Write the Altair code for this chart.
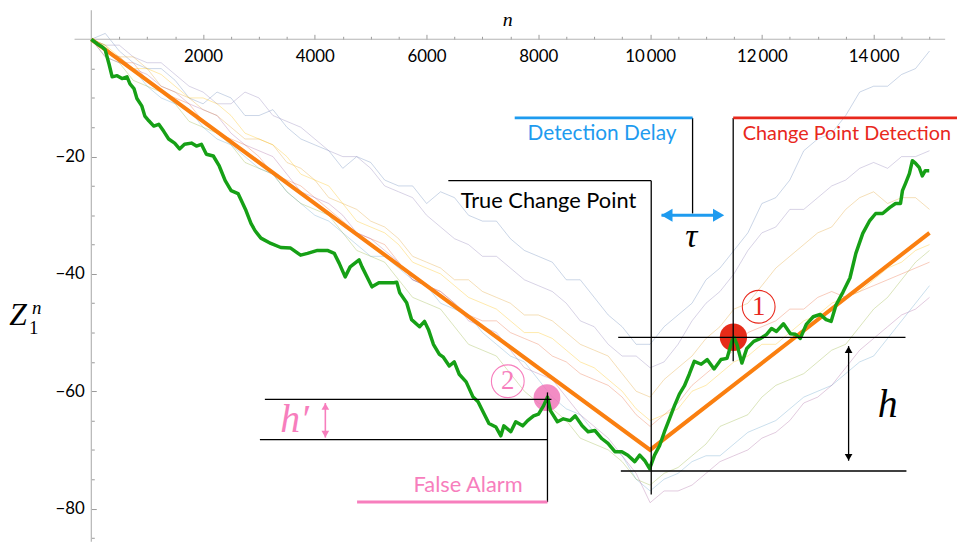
import altair as alt
import pandas as pd

# ---------------- data ----------------
green_n = [0,106,195,248,319,373,461,550,639,692,763,816,905,958,1029,1118,1207,1296,1384,1491,
           1579,1668,1792,1881,1970,2059,2183,2289,2396,2502,2626,2768,2857,2928,3035,3212,3390,3567,3745,3869,
           4047,4224,4348,4437,4543,4632,4792,4845,4933,5022,5146,5288,5412,5466,5519,5643,5732,5874,5963,6034,
           6122,6229,6300,6406,6495,6584,6708,6832,6921,7010,7116,7240,7329,7383,7507,7595,7720,7808,7915,8003,
           8092,8163,8216,8341,8447,8571,8660,8784,8890,9014,9139,9246,9370,9494,9601,9725,9814,9902,9991,10080,
           10169,10257,10346,10435,10524,10613,10701,10790,10914,11021,11145,11269,11376,11464,11500,11553,11642,11731,11855,11979,
           12085,12174,12262,12387,12511,12600,12688,12795,12919,13043,13150,13239,13327,13452,13576,13682,13806,13931,14037,14161,
           14286,14392,14481,14516,14569,14640,14694,14747,14818,14871,14924,14995]
green_z = [0,-0.8,-1.3,-1.8,-4.3,-6.4,-6.2,-6.7,-6.4,-7.6,-8.4,-10.1,-11.4,-13.1,-13.9,-14.8,-14.5,-15.7,-17.0,-17.7,
           -18.7,-17.9,-17.7,-18.2,-17.9,-19.6,-19.9,-21.6,-24.1,-25.8,-26.3,-29.2,-31.4,-32.6,-33.9,-34.8,-35.5,-35.6,-36.8,-36.5,
           -36.0,-36.0,-36.5,-38.2,-40.5,-38.8,-37.6,-38.8,-40.5,-42.2,-41.5,-41.5,-41.5,-41.4,-43.2,-44.9,-47.8,-49.0,-48.1,-49.5,
           -52.0,-53.7,-54.2,-55.7,-55.0,-57.1,-58.4,-61.0,-61.8,-63.5,-65.5,-66.1,-67.6,-65.9,-66.9,-65.2,-65.9,-65.0,-64.2,-63.9,
           -62.5,-61.0,-63.3,-65.2,-64.7,-65.0,-64.2,-65.9,-66.9,-66.7,-68.1,-68.9,-70.3,-70.3,-70.9,-72.0,-70.9,-71.8,-73.2,-70.9,
           -69.3,-66.9,-64.7,-62.5,-60.5,-59.1,-57.1,-54.9,-55.4,-54.6,-56.2,-54.6,-54.4,-51.5,-50.8,-52.0,-55.2,-52.7,-51.5,-51.0,
           -50.3,-49.3,-49.8,-48.5,-50.2,-50.3,-51.0,-48.6,-47.3,-46.9,-47.8,-48.1,-45.3,-43.1,-40.7,-36.5,-33.1,-30.9,-29.7,-29.7,
           -28.7,-28.0,-28.0,-25.8,-24.6,-22.9,-20.7,-21.1,-21.9,-23.3,-22.4,-22.4]

trend_n = [0, 10000, 15000]
trend_z = [0, -70, -33]

faint_n = [0,250,500,750,1000,1250,1500,1750,2000,2250,2500,2750,3000,3250,3500,3750,4000,4250,4500,4750,
           5000,5250,5500,5750,6000,6250,6500,6750,7000,7250,7500,7750,8000,8250,8500,8750,9000,9250,9500,9750,
           10000,10250,10500,10750,11000,11250,11500,11750,12000,12250,12500,12750,13000,13250,13500,13750,14000,14250,14500,14750,15000]
faint_a = [0,1,-2,-4,-5,-5,-7,-10,-11,-9,-10,-13,-13,-12,-15,-17,-18,-19,-22,-20,-21,-24,-25,-25,-28,-26,-27,-30,-31,-31,
           -34,-36,-37,-38,-41,-41,-44,-47,-49,-52,-52,-49,-47,-45,-41,-39,-36,-33,-28,-27,-24,-19,-17,-16,-13,-9,-8,-8,-6,-5,-2]
faint_b = [0,-1,-1,-3,-4,-4,-6,-8,-9,-11,-11,-9,-10,-13,-14,-15,-17,-19,-20,-20,-22,-25,-26,-27,-30,-32,-34,-35,-37,-37,
           -39,-41,-42,-43,-45,-48,-49,-52,-54,-54,-56,-55,-52,-48,-45,-43,-40,-36,-33,-32,-29,-29,-27,-25,-24,-22,-21,-22,-20,-20,-19]
faint_c = [0,-2,-3,-3,-5,-8,-9,-10,-12,-13,-15,-17,-17,-18,-21,-22,-24,-27,-28,-29,-31,-32,-34,-37,-38,-39,-41,-41,-43,-44,
           -45,-47,-47,-48,-50,-52,-53,-54,-57,-60,-61,-58,-56,-54,-51,-49,-46,-45,-42,-39,-37,-35,-33,-32,-29,-27,-26,-28,-27,-27,-29]
faint_d = [0,-3,-4,-4,-7,-9,-10,-11,-14,-16,-17,-18,-20,-23,-24,-25,-27,-29,-31,-33,-34,-35,-38,-41,-42,-43,-45,-47,-48,-48,
           -50,-51,-52,-54,-55,-57,-58,-59,-61,-64,-66,-64,-62,-59,-57,-55,-53,-50,-49,-48,-46,-46,-44,-43,-44,-43,-42,-41,-40,-39,-38]
faint_e = [0,-1,-4,-7,-8,-9,-11,-14,-15,-16,-18,-21,-22,-23,-26,-28,-29,-30,-33,-36,-37,-38,-41,-44,-45,-46,-49,-52,-53,-54,
           -57,-60,-62,-63,-65,-68,-69,-70,-72,-75,-76,-74,-73,-71,-69,-66,-65,-64,-61,-59,-58,-57,-55,-53,-52,-49,-46,-44,-41,-38,-36]
faint_f = [0,-3,-4,-5,-8,-10,-11,-12,-15,-17,-18,-20,-22,-23,-26,-28,-30,-31,-33,-35,-37,-37,-39,-41,-42,-45,-46,-47,-50,-52,
           -54,-55,-58,-61,-63,-64,-67,-69,-71,-75,-77,-75,-74,-72,-71,-71,-69,-67,-66,-65,-63,-61,-60,-59,-57,-55,-54,-51,-48,-45,-42]
faint_g = [0,-2,-3,-5,-6,-8,-9,-11,-12,-13,-16,-18,-19,-20,-23,-26,-27,-28,-30,-33,-34,-36,-38,-41,-42,-43,-45,-48,-49,-50,
           -53,-56,-57,-58,-61,-64,-66,-68,-71,-74,-79,-77,-77,-76,-74,-72,-71,-70,-68,-67,-65,-62,-61,-59,-56,-53,-51,-49,-47,-46,-44]
faint_h = [0,-1,-3,-5,-5,-6,-8,-10,-10,-11,-13,-16,-17,-18,-20,-23,-24,-25,-28,-31,-32,-33,-35,-38,-39,-40,-42,-44,-45,-46,
           -48,-50,-50,-51,-53,-55,-56,-58,-60,-63,-65,-64,-63,-60,-59,-57,-55,-54,-52,-52,-50,-48,-47,-45,-44,-43,-41,-39,-38,-36,-35]
faint_names = ["a", "b", "c", "d", "e", "f", "g", "h"]
faint_colors = ["#5E81B5", "#8778B3", "#E19C24", "#EB6235", "#8FB032", "#5D9EC7", "#A5609D", "#FFBF00"]

x_major = [2000, 4000, 6000, 8000, 10000, 12000, 14000]
x_minor = [500,1000,1500,2500,3000,3500,4500,5000,5500,6500,7000,7500,8500,9000,9500,
           10500,11000,11500,12500,13000,13500,14500,15000]
y_major = [-80, -60, -40, -20]
y_minor = [5,-5,-10,-15,-25,-30,-35,-45,-50,-55,-65,-70,-75,-85]

# annotation segments (n1, z1, n2, z2)
thin_segments = [
    (6389, -24.1, 10020, -24.1),
    (10020, -24.1, 10020, -77.6),
    (10760, -13.4, 10760, -29.7),
    (11487, -13.4, 11487, -54.9),
    (9429, -50.8, 14570, -50.8),
    (9476, -73.6, 14587, -73.6),
    (3106, -61.4, 8234, -61.4),
    (3017, -68.25, 8163, -68.25),
    (8163, -60.2, 8163, -78.9),
]
blue_bar = (7577, -13.4, 10760, -13.4)
red_bar = (11487, -13.4, 15492, -13.4)
pink_bar = (4756, -78.9, 8163, -78.9)
axis_lines = [(-300, 0, 15280, 0), (0, 4.95, 0, -85.66)]

# arrows: shaft and head centres
blue_arrow = (10204, -30.0, 11322, -30.0)
blue_heads_n = [10300, 11226]
blue_heads_z = [-30.0, -30.0]
blue_heads_shape = ["triangle-left", "triangle-right"]
h_arrow = (13552, -52.3, 13552, -71.85)
h_heads_n = [13552, 13552]
h_heads_z = [-52.9, -71.25]
h_heads_shape = ["triangle-up", "triangle-down"]
hp_arrow = (4188, -62.0, 4188, -67.9)
hp_heads_n = [4188, 4188]
hp_heads_z = [-62.6, -67.3]

detect_pt = (11491, -50.8)
false_pt = (8154, -61.1)
mark1_pt = (11943, -45.6)
mark2_pt = (7453, -58.3)

# ---------------- chart ----------------
W, H = 957, 536
xs = alt.Scale(domain=[-1491, 15492], nice=False, zero=False)
ys = alt.Scale(domain=[-85.66, 4.95], nice=False, zero=False)


def X(field="n", axis=None):
    return alt.X(f"{field}:Q", scale=xs, axis=axis)


def Y(field="z", axis=None):
    return alt.Y(f"{field}:Q", scale=ys, axis=axis)


def seg_chart(segs, color, width):
    df = pd.DataFrame(segs, columns=["n", "z", "n2", "z2"])
    return alt.Chart(df).mark_rule(color=color, strokeWidth=width).encode(
        x=X(), y=Y(), x2="n2:Q", y2="z2:Q")


def text_chart(ns, zs, texts, color, font, size, style="normal", align="center"):
    df = pd.DataFrame({"n": ns, "z": zs, "t": texts})
    return alt.Chart(df).mark_text(color=color, font=font, fontSize=size, fontStyle=style,
                                   align=align, baseline="middle").encode(x=X(), y=Y(), text="t:N")


def ring_chart(pt, color):
    df = pd.DataFrame({"n": [pt[0]], "z": [pt[1]]})
    return alt.Chart(df).mark_point(shape="circle", filled=False, color=color, strokeWidth=1.1,
                                    opacity=1, size=1090).encode(x=X(), y=Y())


faint_rows = []
for name, vals in zip(faint_names, [faint_a, faint_b, faint_c, faint_d, faint_e, faint_f, faint_g, faint_h]):
    for n, z in zip(faint_n, vals):
        faint_rows.append({"s": name, "n": n, "z": z})
faint_df = pd.DataFrame(faint_rows)

faint = alt.Chart(faint_df).mark_line(strokeWidth=1, opacity=0.33).encode(
    x=X(), y=Y(), detail="s:N",
    color=alt.Color("s:N", scale=alt.Scale(domain=faint_names, range=faint_colors), legend=None))

thousands = "datum.value >= 10000 ? replace(format(datum.value, ','), ',', '\u2009') : format(datum.value, 'd')"
negatives = "'\u2212' + format(-datum.value, 'd')"

x_axis_major = alt.Axis(orient="top", offset=-29.3, values=x_major, tickSize=5, tickColor="#999999",
                        domain=False, grid=False, labelExpr=thousands, labelFont="Lato", labelFontSize=17,
                        labelColor="black", labelBaseline="top", labelPadding=-14, labelFlush=False,
                        labelOverlap=False, title=None)
x_axis_minor = alt.Axis(orient="top", offset=-29.3, values=x_minor, tickSize=3, tickColor="#999999",
                        domain=False, grid=False, labels=False, title=None)
y_axis_major = alt.Axis(orient="right", offset=-(W - 84), values=y_major, tickSize=5, tickColor="#999999",
                        domain=False, grid=False, labelExpr=negatives, labelFont="Lato", labelFontSize=17,
                        labelColor="black", labelAlign="right", labelBaseline="middle", labelPadding=-12,
                        labelFlush=False, labelOverlap=False, title=None)
y_axis_minor = alt.Axis(orient="right", offset=-(W - 84), values=y_minor, tickSize=3, tickColor="#999999",
                        domain=False, grid=False, labels=False, title=None)

trend = alt.Chart(pd.DataFrame({"n": trend_n, "z": trend_z})).mark_line(
    color="#FA7F10", strokeWidth=4).encode(x=X(axis=x_axis_major), y=Y(axis=y_axis_major))

green = alt.Chart(pd.DataFrame({"n": green_n, "z": green_z})).mark_line(
    color="#16A016", strokeWidth=3.5, strokeJoin="round").encode(x=X(axis=x_axis_minor), y=Y(axis=y_axis_minor))

axes_lines = seg_chart(axis_lines, "#b5b5b5", 1.2)

red_dot = alt.Chart(pd.DataFrame({"n": [detect_pt[0]], "z": [detect_pt[1]]})).mark_circle(
    color="#E5200C", opacity=0.95, size=760).encode(x=X(), y=Y())
pink_dot = alt.Chart(pd.DataFrame({"n": [false_pt[0]], "z": [false_pt[1]]})).mark_circle(
    color="#F06FB5", opacity=0.8, size=730).encode(x=X(), y=Y())

thin = seg_chart(thin_segments, "black", 1.3)
blue_b = seg_chart([blue_bar], "#1E9BEF", 3)
red_b = seg_chart([red_bar], "#E8281C", 3)
pink_b = seg_chart([pink_bar], "#F77EBD", 3)

blue_shaft = seg_chart([blue_arrow[:2] + (blue_heads_n[1], blue_arrow[3])], "#1E9BEF", 3)
blue_head = alt.Chart(pd.DataFrame({"n": blue_heads_n, "z": blue_heads_z, "s": blue_heads_shape})).mark_point(
    filled=True, color="#1E9BEF", opacity=1, size=170).encode(
    x=X(), y=Y(), shape=alt.Shape("s:N", scale=None))
h_shaft = seg_chart([h_arrow], "black", 1.3)
h_head = alt.Chart(pd.DataFrame({"n": h_heads_n, "z": h_heads_z, "s": h_heads_shape})).mark_point(
    filled=True, color="black", opacity=1, size=60).encode(
    x=X(), y=Y(), shape=alt.Shape("s:N", scale=None))
hp_shaft = seg_chart([hp_arrow], "#F77EBD", 1.6)
hp_head = alt.Chart(pd.DataFrame({"n": hp_heads_n, "z": hp_heads_z, "s": h_heads_shape})).mark_point(
    filled=True, color="#F77EBD", opacity=1, size=60).encode(
    x=X(), y=Y(), shape=alt.Shape("s:N", scale=None))

sans = "Lato"
serif = "Liberation Serif"
texts = [
    text_chart([8181], [-27.5], ["True Change Point"], "black", sans, 22),
    text_chart([9139], [-16.2], ["Detection Delay"], "#1E9BEF", sans, 21),
    text_chart([11659], [-16.2], ["Change Point Detection"], "#E8281C", sans, 20, align="left"),
    text_chart([6743], [-76.0], ["False Alarm"], "#F77EBD", sans, 22),
    text_chart([10736], [-33.8], ["τ"], "black", serif, 34, "italic"),
    text_chart([14250], [-62.3], ["h"], "black", serif, 40, "italic"),
    text_chart([3638], [-65.0], ["h′"], "#F77EBD", serif, 40, "italic"),
    text_chart([mark1_pt[0]], [mark1_pt[1]], ["1"], "#E8281C", serif, 27),
    text_chart([mark2_pt[0]], [mark2_pt[1]], ["2"], "#F77EBD", serif, 27),
    text_chart([7453], [3.3], ["n"], "black", serif, 20, "italic"),
    text_chart([-1313], [-47.1], ["Z"], "black", serif, 32, "italic"),
    text_chart([-976], [-45.8], ["n"], "black", serif, 19, "italic"),
    text_chart([-1029], [-49.3], ["1"], "black", serif, 19),
]

chart = alt.layer(
    faint, axes_lines, trend, red_dot, pink_dot, green, thin, blue_b, red_b, pink_b,
    blue_shaft, blue_head, h_shaft, h_head, hp_shaft, hp_head,
    ring_chart(mark1_pt, "#E8281C"), ring_chart(mark2_pt, "#F77EBD"), *texts
).properties(
    width=W, height=H, padding=0, autosize=alt.AutoSizeParams(type="none")
).resolve_axis(x="independent", y="independent").configure_view(stroke=None)

chart.save("out.html", embed_options={"renderer": "svg", "actions": False})
